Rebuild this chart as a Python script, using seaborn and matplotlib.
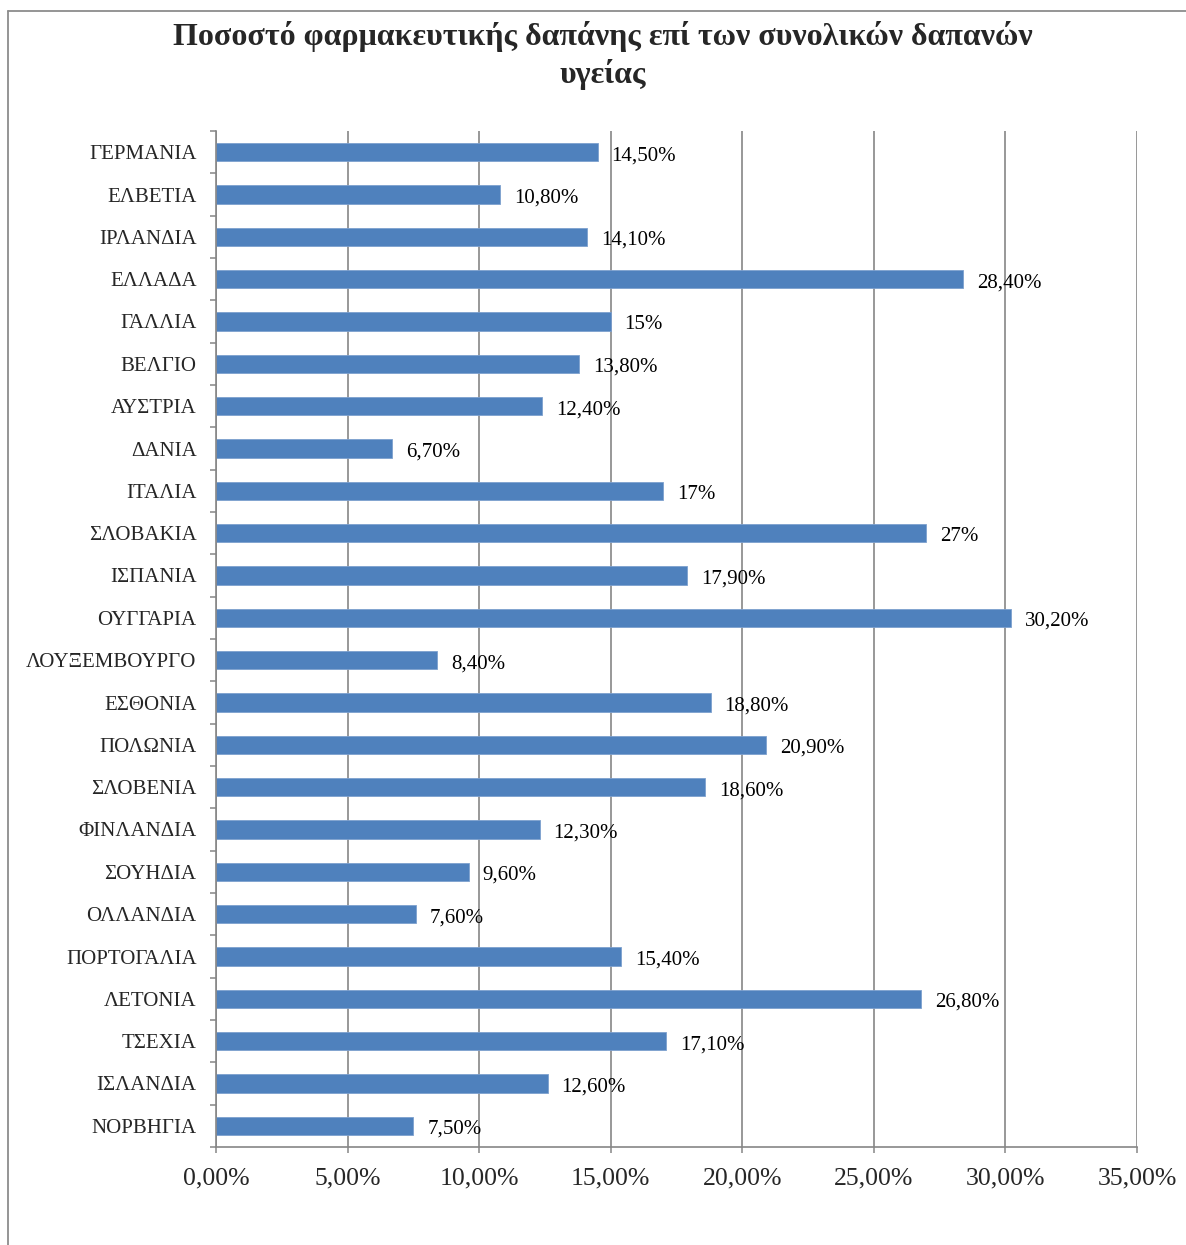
import matplotlib
matplotlib.use("Agg")
import matplotlib.pyplot as plt
from matplotlib.lines import Line2D
import numpy as np
import pandas as pd
import seaborn as sns

# Pharmaceutical expenditure as a share of total health expenditure (%)
countries = [
    "ΓΕΡΜΑΝΙΑ", "ΕΛΒΕΤΙΑ", "ΙΡΛΑΝΔΙΑ", "ΕΛΛΑΔΑ", "ΓΑΛΛΙΑ", "ΒΕΛΓΙΟ",
    "ΑΥΣΤΡΙΑ", "ΔΑΝΙΑ", "ΙΤΑΛΙΑ", "ΣΛΟΒΑΚΙΑ", "ΙΣΠΑΝΙΑ", "ΟΥΓΓΑΡΙΑ",
    "ΛΟΥΞΕΜΒΟΥΡΓΟ", "ΕΣΘΟΝΙΑ", "ΠΟΛΩΝΙΑ", "ΣΛΟΒΕΝΙΑ", "ΦΙΝΛΑΝΔΙΑ",
    "ΣΟΥΗΔΙΑ", "ΟΛΛΑΝΔΙΑ", "ΠΟΡΤΟΓΑΛΙΑ", "ΛΕΤΟΝΙΑ", "ΤΣΕΧΙΑ",
    "ΙΣΛΑΝΔΙΑ", "ΝΟΡΒΗΓΙΑ",
]
shares = [
    14.5, 10.8, 14.1, 28.4, 15.0, 13.8,
    12.4, 6.7, 17.0, 27.0, 17.9, 30.2,
    8.4, 18.8, 20.9, 18.6, 12.3,
    9.6, 7.6, 15.4, 26.8, 17.1,
    12.6, 7.5,
]
x_ticks = [0, 5, 10, 15, 20, 25, 30, 35]
x_tick_labels = ["0,00%", "5,00%", "10,00%", "15,00%", "20,00%", "25,00%", "30,00%", "35,00%"]
title = "Ποσοστό φαρμακευτικής δαπάνης επί των συνολικών δαπανών\nυγείας"

sns.set_style("white")
plt.rcParams["font.family"] = ["Liberation Serif", "DejaVu Serif"]

GRID = "#868686"
BAR = "#4F81BD"

df = pd.DataFrame({"country": countries, "share": shares})

fig = plt.figure(figsize=(11.86, 12.45), dpi=100)
ax = fig.add_axes([216 / 1186, 1 - 1147 / 1245, (1137 - 216) / 1186, (1147 - 131) / 1245])

sns.barplot(data=df, x="share", y="country", orient="h", color=BAR,
            width=0.43, edgecolor="#7DA0CE", linewidth=0.6, saturation=1, ax=ax)

ax.set_xlim(0, 35)
ax.set_ylim(len(countries) - 0.5, -0.5)
ax.set_xlabel("")
ax.set_ylabel("")

# vertical gridlines
ax.set_xticks(x_ticks)
ax.set_xticklabels(x_tick_labels, fontsize=18.5)
ax.xaxis.grid(True, color=GRID, linewidth=1.2)
ax.yaxis.grid(False)
ax.set_axisbelow(True)
ax.tick_params(axis="x", which="major", direction="out", length=4, width=1.1,
               color=GRID, pad=11, bottom=True)

# category labels with tick marks on the category boundaries
ax.set_yticks(range(len(countries)))
ax.set_yticklabels(countries, fontsize=15)
ax.tick_params(axis="y", which="major", length=0, pad=14)
ax.set_yticks(np.arange(-0.5, len(countries), 1.0), minor=True)
ax.tick_params(axis="y", which="minor", direction="out", length=4.5, width=1.1,
               color=GRID, left=True)

for side in ("top", "right"):
    ax.spines[side].set_visible(False)
for side in ("left", "bottom"):
    ax.spines[side].set_color(GRID)
    ax.spines[side].set_linewidth(1.2)

# value labels at the end of each bar
def fmt(v):
    if float(v).is_integer():
        return f"{int(v)}%"
    return f"{v:.2f}%".replace(".", ",")

for i, v in enumerate(shares):
    ax.annotate(fmt(v), xy=(v, i), xytext=(10, -2.5), textcoords="offset points",
                ha="left", va="center", fontsize=15, color="black")

fig.text(0.508, 1 - 55.5 / 1245, title, ha="center", va="center",
         fontsize=23, fontweight="bold", linespacing=1.32)

# chart-area frame
fig.add_artist(Line2D([8 / 1186, 8 / 1186], [0, 1 - 11 / 1245],
                      transform=fig.transFigure, color="#8C8C8C", linewidth=1.3))
fig.add_artist(Line2D([8 / 1186, 1], [1 - 11 / 1245, 1 - 11 / 1245],
                      transform=fig.transFigure, color="#8C8C8C", linewidth=1.3))

fig.savefig("out.png", dpi=100, facecolor="white")
